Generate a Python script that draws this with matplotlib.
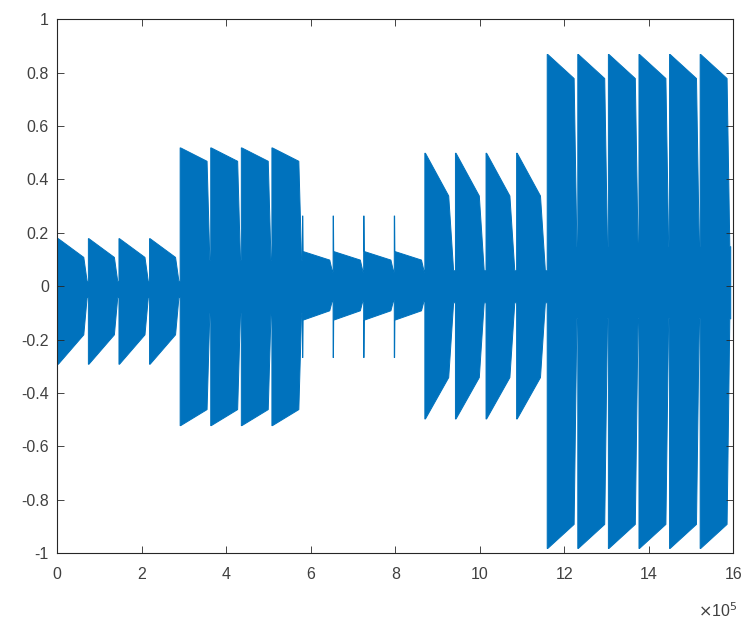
import numpy as np
import matplotlib
matplotlib.use("Agg")
import matplotlib.pyplot as plt

# samples per burst (22 bursts up to ~15.9e5)
burst_len = 72400
# group index of each of the 22 bursts
burst_group = [0, 0, 0, 0, 1, 1, 1, 1, 2, 2, 2, 2, 3, 3, 3, 3, 4, 4, 4, 4, 4, 4]

# envelope of each group of bursts (upper / lower edge of the dense waveform)
spike_top = [0.18, 0.52, 0.265, 0.50, 0.87]
spike_bot = [-0.29, -0.52, -0.265, -0.495, -0.98]
top_start = [0.18, 0.52, 0.132, 0.50, 0.87]
top_knee = [0.11, 0.47, 0.10, 0.34, 0.78]
top_end = [0.02, 0.10, 0.055, 0.06, 0.15]
bot_start = [-0.29, -0.52, -0.125, -0.495, -0.98]
bot_knee = [-0.18, -0.46, -0.09, -0.34, -0.89]
bot_end = [-0.04, -0.10, -0.05, -0.06, -0.12]
knee_frac = [0.85, 0.88, 0.89, 0.78, 0.88]
end_frac = [0.96, 0.97, 0.98, 0.94, 0.97]

xticks = [0, 2e5, 4e5, 6e5, 8e5, 10e5, 12e5, 14e5, 16e5]
xtick_labels = ["0", "2", "4", "6", "8", "10", "12", "14", "16"]
yticks = [-1, -0.8, -0.6, -0.4, -0.2, 0, 0.2, 0.4, 0.6, 0.8, 1]
ytick_labels = ["-1", "-0.8", "-0.6", "-0.4", "-0.2", "0", "0.2", "0.4", "0.6", "0.8", "1"]

plt.rcParams["font.family"] = ["Liberation Sans", "DejaVu Sans"]
plt.rcParams["axes.unicode_minus"] = False

# build the envelope polygon burst by burst
x, hi, lo = [], [], []
for i, g in enumerate(burst_group):
    s = i * burst_len
    fr = [0, 0.012, 0.02, knee_frac[g], end_frac[g], 1.0]
    x += [s + f * burst_len for f in fr]
    hi += [spike_top[g], spike_top[g], top_start[g], top_knee[g], top_end[g], top_end[g]]
    lo += [spike_bot[g], spike_bot[g], bot_start[g], bot_knee[g], bot_end[g], bot_end[g]]

fig = plt.figure(figsize=(7.44, 6.22), dpi=100)
ax = fig.add_axes([0.077, 0.1105, 0.9086, 0.8585])

blue = "#0072BD"
ax.fill_between(x, lo, hi, color=blue, edgecolor=blue, linewidth=0.7)

ax.set_xlim(0, 16e5)
ax.set_ylim(-1, 1)
ax.set_xticks(xticks)
ax.set_xticklabels(xtick_labels)
ax.set_yticks(yticks)
ax.set_yticklabels(ytick_labels)

dark = "#262626"
for sp in ax.spines.values():
    sp.set_color(dark)
    sp.set_linewidth(0.8)
ax.tick_params(direction="in", top=True, right=True, length=5, width=0.6,
               colors=dark, labelsize=11.5)
ax.tick_params(axis="x", pad=10)
ax.tick_params(axis="y", pad=6)
for lab in ax.get_xticklabels() + ax.get_yticklabels():
    lab.set_color("#404040")

ax.text(1.006, -0.108, r"$\times$10$^{5}$", transform=ax.transAxes,
        ha="right", va="center", fontsize=11.5, color="#404040")

fig.savefig("out.png", dpi=100)
